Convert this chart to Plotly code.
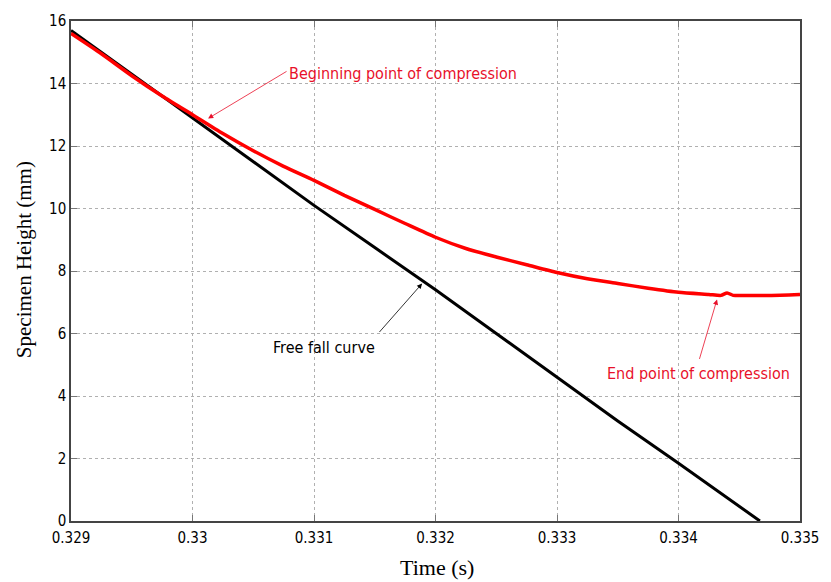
import plotly.graph_objects as go

# Free fall curve (black)
t_free = [0.329, 0.3295, 0.330, 0.3305, 0.331, 0.3315, 0.332, 0.3325, 0.333, 0.3335, 0.334, 0.3345, 0.33467]
h_free = [15.7, 14.3, 12.9, 11.5, 10.1, 8.75, 7.4, 6.0, 4.6, 3.2, 1.85, 0.47, 0.0]

# Specimen height (red)
t_spec = [0.329, 0.32925, 0.3295, 0.32975, 0.330, 0.33025, 0.3305, 0.33075, 0.331, 0.33125,
          0.3315, 0.33175, 0.332, 0.33225, 0.3325, 0.33275, 0.333, 0.33325, 0.3335, 0.33375,
          0.334, 0.33425, 0.33435, 0.3344, 0.33445, 0.3345, 0.33475, 0.335]
h_spec = [15.6, 14.95, 14.25, 13.6, 13.0, 12.4, 11.85, 11.35, 10.9, 10.42,
          9.97, 9.52, 9.08, 8.72, 8.45, 8.2, 7.95, 7.75, 7.6, 7.45,
          7.32, 7.25, 7.22, 7.3, 7.22, 7.22, 7.22, 7.25]

x_ticks = [0.329, 0.330, 0.331, 0.332, 0.333, 0.334, 0.335]
x_tick_text = ["0.329", "0.33", "0.331", "0.332", "0.333", "0.334", "0.335"]
y_ticks = [0, 2, 4, 6, 8, 10, 12, 14, 16]

tick_font = dict(family="DejaVu Sans Condensed, Liberation Sans Narrow, sans-serif", size=15, color="black")
ann_font = "DejaVu Sans Condensed, Liberation Sans Narrow, sans-serif"
serif = "Liberation Serif, Times New Roman, serif"

fig = go.Figure()
fig.add_trace(go.Scatter(x=t_free, y=h_free, mode="lines", line=dict(color="black", width=3), showlegend=False))
fig.add_trace(go.Scatter(x=t_spec, y=h_spec, mode="lines", line=dict(color="#ff0000", width=3.5, shape="spline", smoothing=0.6), showlegend=False))

grid = dict(showgrid=True, gridcolor="#b0b0b0", griddash="dot", gridwidth=1)
fig.update_xaxes(range=[0.329, 0.335], tickvals=x_ticks, ticktext=x_tick_text, tickfont=tick_font,
                 ticks="inside", ticklen=6, tickcolor="#777", showline=True, linecolor="#444", linewidth=1.5,
                 mirror="ticks", zeroline=False, ticklabelstandoff=2, **grid)
fig.update_yaxes(range=[0, 16], tickvals=y_ticks, tickfont=tick_font,
                 ticks="inside", ticklen=6, tickcolor="#777", showline=True, linecolor="#444", linewidth=1.5,
                 mirror="ticks", zeroline=False, **grid)

L, R, T, B = 71, 21, 20, 61
W, H = 831 - L - R, 582 - T - B

def px(xp):
    return (xp - L) / W

def py(yp):
    return (582 - yp - B) / H

annotations = []
arrow_specs = [
    (0.330128, 12.88, 80, -48, "#e8102a"),
    (0.33189, 7.60, -44, 50, "black"),
    (0.334317, 7.09, -18, 61, "#e8102a"),
]
for x, y, ax, ay, c in arrow_specs:
    annotations.append(dict(x=x, y=y, xref="x", yref="y", ax=ax, ay=ay, axref="pixel", ayref="pixel",
                            text="", showarrow=True, arrowhead=2, arrowsize=1.3, arrowwidth=0.8, arrowcolor=c))
labels = [
    (290, 73, "Beginning point of compression", "#e8102a"),
    (274, 347, "Free fall curve", "black"),
    (612, 373, "End point of compression", "#e8102a"),
]
for x, y, txt, c in labels:
    annotations.append(dict(x=px(x), y=py(y), xref="paper", yref="paper", text=txt, showarrow=False,
                            xanchor="left", yanchor="middle", font=dict(family=ann_font, size=16, color=c)))
# axis titles
annotations.append(dict(x=px(442), y=py(568), xref="paper", yref="paper", text="Time (s)", showarrow=False,
                        xanchor="center", yanchor="middle", font=dict(family=serif, size=22, color="black")))
annotations.append(dict(x=px(23), y=py(259), xref="paper", yref="paper", text="Specimen Height (mm)", showarrow=False,
                        textangle=-90, xanchor="center", yanchor="middle", font=dict(family=serif, size=21, color="black")))

fig.update_layout(width=831, height=582, margin=dict(l=L, r=R, t=T, b=B),
                  plot_bgcolor="white", paper_bgcolor="white", annotations=annotations)
fig.write_html("out.html")
